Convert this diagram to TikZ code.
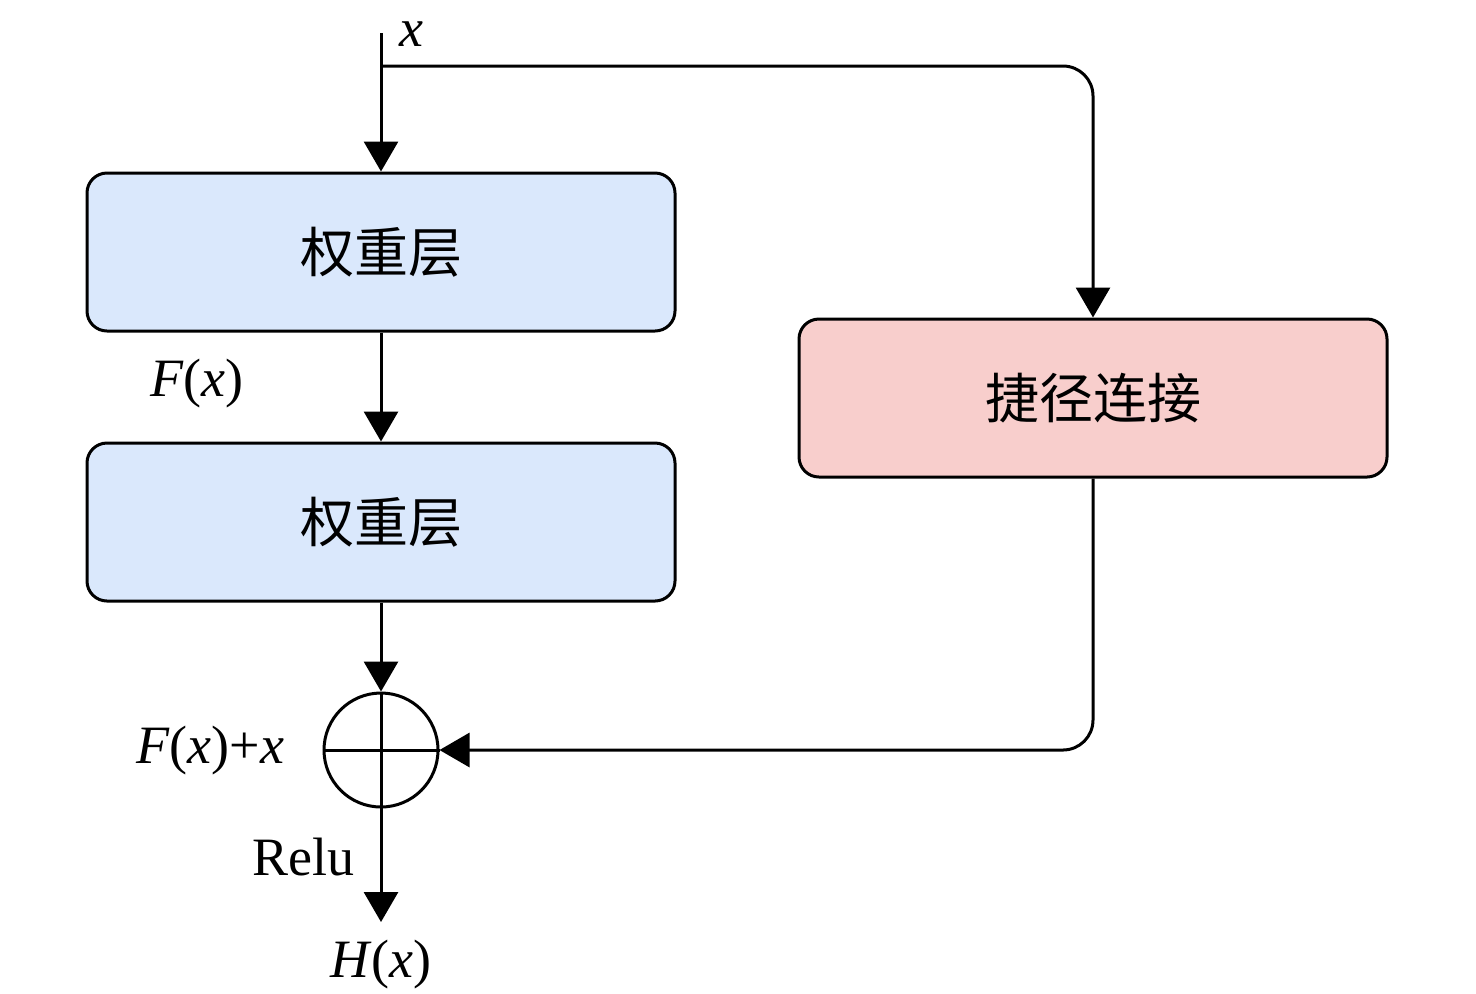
\documentclass[tikz,border=0pt]{standalone}
\usepackage{fontspec}
\setmainfont{Liberation Serif}
\newfontfamily\cjk{Noto Sans CJK SC}
\usetikzlibrary{arrows.meta, positioning, calc}
\definecolor{cblue}{HTML}{DAE8FC}
\definecolor{cpink}{HTML}{F8CECC}
\begin{document}
\begin{tikzpicture}[
    x=0.5pt, y=-0.5pt,
    font=\fontsize{27}{32}\selectfont,
    box/.style={draw, line width=1.5pt, rounded corners=10pt, minimum width=294pt, minimum height=79pt, fill=#1, font=\fontsize{27}{32}\selectfont\cjk},
    box/.default=cblue,
    sum/.style={draw, circle, line width=1.5pt, minimum size=57pt, inner sep=0pt},
    arrow/.style={-{Triangle[length=15pt, width=17pt]}, line width=1.5pt},
    label/.style={inner sep=0pt}
]
\useasboundingbox (0,0) rectangle (1476,993);

%% main path
\coordinate (in) at (381,33);
\coordinate (br) at (381,66);
\node[box=cblue] (w1) at (381,252) {权重层};
\node[box=cblue, below=54.5pt of w1] (w2) {权重层};
\node[sum, below=44.5pt of w2] (add) {};
\draw[line width=1.5pt] (add.north) -- (add.south) (add.west) -- (add.east);
\coordinate (out) at (381,922);
\draw[arrow] (in) -- (w1.north);
\draw[arrow] (w1) -- (w2);
\draw[arrow] (w2) -- (add);
\draw[arrow] (add.south) -- (out);

%% shortcut
\node[box=cpink] (sc) at (1093,398) {捷径连接};
\draw[arrow, rounded corners=15pt] (br) -| (sc.north);
\draw[arrow, rounded corners=15pt] (sc.south) |- (add.east);

%% labels
\node[label] (xl) at (411,34) {\textit{x}};
\node[label] (fl) at (197,383) {\textit{F}(\textit{x})};
\node[label, left=19pt of add] (sl) {\textit{F}(\textit{x})+\textit{x}};
\node[label] (rl) at (303,857) {Relu};
\node[label, below=9pt of out] (hl) {\textit{H}(\textit{x})};

\end{tikzpicture}
\end{document}
